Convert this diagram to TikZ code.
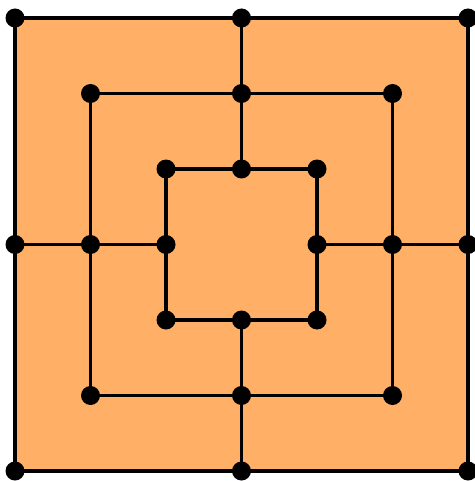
\documentclass[tikz,border=0pt]{standalone}
\definecolor{boardfill}{RGB}{255,176,102}
\begin{document}
\begin{tikzpicture}[x=1pt,y=-1pt,
  dot/.style={circle,fill=black,inner sep=0pt,minimum size=19pt},
  boardline/.style={line width=3.5pt,line join=miter}]
\useasboundingbox (0,0) rectangle (474,481);
\def\cx{241.5}\def\cy{244.5}\def\u{75.5}
\fill[boardfill] (15,18) rectangle (468,471);
\foreach \r/\k in {a/3,b/2,c/1}{
  \node[dot] (\r TL) at ({\cx-\k*\u},{\cy-\k*\u}) {};
  \node[dot] (\r T)  at ({\cx},{\cy-\k*\u}) {};
  \node[dot] (\r TR) at ({\cx+\k*\u},{\cy-\k*\u}) {};
  \node[dot] (\r R)  at ({\cx+\k*\u},{\cy}) {};
  \node[dot] (\r BR) at ({\cx+\k*\u},{\cy+\k*\u}) {};
  \node[dot] (\r B)  at ({\cx},{\cy+\k*\u}) {};
  \node[dot] (\r BL) at ({\cx-\k*\u},{\cy+\k*\u}) {};
  \node[dot] (\r L)  at ({\cx-\k*\u},{\cy}) {};
  \draw[boardline] (\r TL.center) -- (\r TR.center) -- (\r BR.center) -- (\r BL.center) -- cycle;
}
\foreach \s in {T,R,B,L}{
  \draw[boardline] (a\s.center) -- (c\s.center);
}
\end{tikzpicture}
\end{document}
